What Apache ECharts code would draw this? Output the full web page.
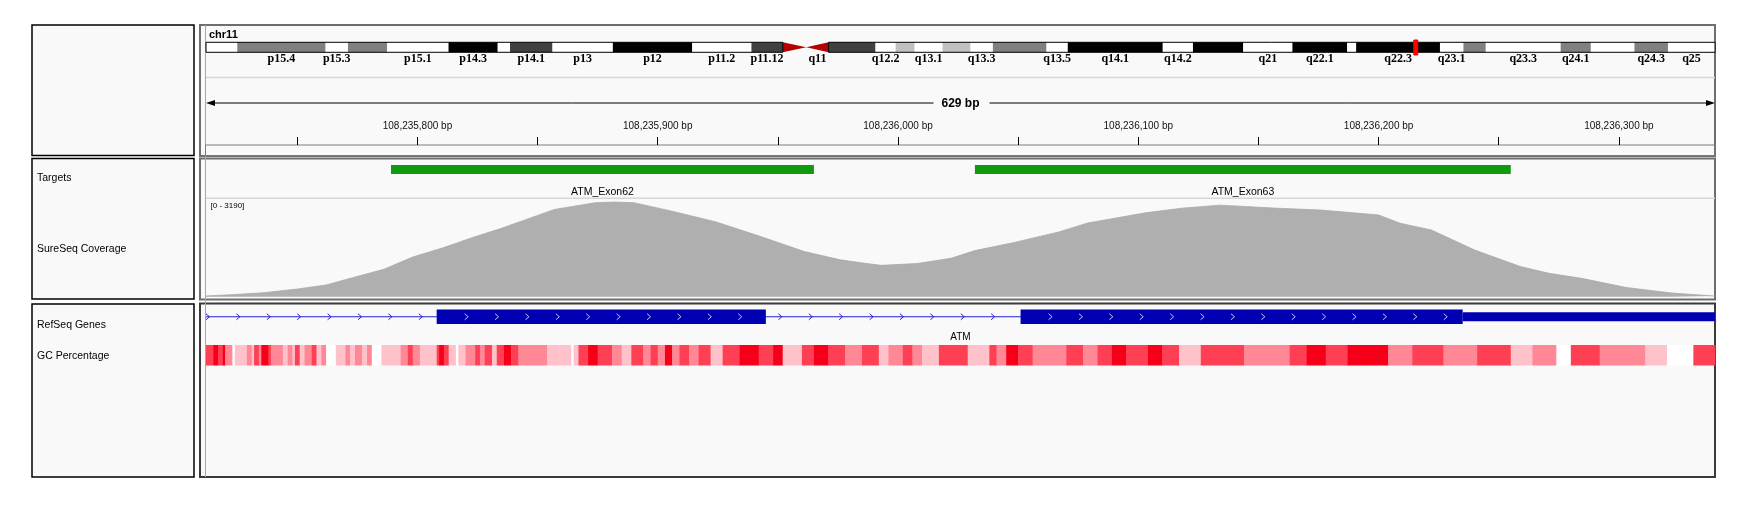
<!DOCTYPE html>
<html>
<head>
<meta charset="utf-8">
<title>IGV - ATM Exon62 / Exon63</title>
<script src="https://cdn.jsdelivr.net/npm/echarts@6/dist/echarts.min.js"></script>
<style>
  html, body { margin: 0; padding: 0; background: #fff; }
  #main { width: 1747px; height: 508px; }
</style>
</head>
<body>
<div id="main"></div>
<script>
// ---- ideogram (hg19 chr11 cytobands) ----
var chromName = 'chr11';
var chromLength = 135006516;
var bandNames = ['p15.5','p15.4','p15.3','p15.2','p15.1','p14.3','p14.2','p14.1','p13','p12','p11.2','p11.12','p11.11','q11',
  'q12.1','q12.2','q12.3','q13.1','q13.2','q13.3','q13.4','q13.5','q14.1','q14.2','q14.3','q21','q22.1','q22.2','q22.3',
  'q23.1','q23.2','q23.3','q24.1','q24.2','q24.3','q25'];
var bandStarts = [0, 2800000, 10700000, 12700000, 16200000, 21700000, 26100000, 27200000, 31000000, 36400000, 43500000,
  48800000, 51600000, 53700000, 55700000, 59900000, 61700000, 63400000, 65900000, 68400000, 70400000, 75200000, 77100000,
  85600000, 88300000, 92800000, 97200000, 102100000, 102900000, 110400000, 112500000, 114500000, 121200000, 123900000,
  127800000, 130800000];
var bandStains = ['gneg','gpos50','gneg','gpos50','gneg','gpos100','gneg','gpos75','gneg','gpos100','gneg','gpos75','acen','acen',
  'gpos75','gneg','gpos25','gneg','gpos25','gneg','gpos50','gneg','gpos100','gneg','gpos100','gneg','gpos100','gneg','gpos100',
  'gneg','gpos50','gneg','gpos50','gneg','gpos50','gneg'];
var bandLabels = ['p15.4','p15.3','p15.1','p14.3','p14.1','p13','p12','p11.2','p11.12','q11','q12.2','q13.1','q13.3','q13.5',
  'q14.1','q14.2','q21','q22.1','q22.3','q23.1','q23.3','q24.1','q24.3','q25'];

// ---- view / ruler ----
var viewStart = 108235712;
var viewEnd = 108236340;
var rulerSpan = 629;
var rulerTicks = [108235750, 108235800, 108235850, 108235900, 108235950, 108236000, 108236050, 108236100,
  108236150, 108236200, 108236250, 108236300];
var rulerLabels = [108235800, 108235900, 108236000, 108236100, 108236200, 108236300];

// ---- targets ----
var targetNames = ['ATM_Exon62', 'ATM_Exon63'];
var targetStarts = [108235789, 108236032];
var targetEnds = [108235965, 108236255];

// ---- coverage ----
var coverageMax = 3190;
var coveragePos = [108235712, 108235724, 108235736, 108235750, 108235762, 108235773, 108235786, 108235798, 108235811,
  108235823, 108235834, 108235843, 108235857, 108235874, 108235882, 108235890, 108235905, 108235924, 108235942,
  108235961, 108235976, 108235984, 108235993, 108236008, 108236022, 108236032, 108236048, 108236067, 108236079,
  108236103, 108236118, 108236134, 108236158, 108236176, 108236200, 108236209, 108236222, 108236240, 108236259,
  108236271, 108236285, 108236303, 108236322, 108236340];
var coverageDepth = [25, 70, 130, 250, 380, 620, 890, 1290, 1600, 1930, 2200, 2450, 2840, 3060, 3080, 3060, 2800, 2440,
  1980, 1470, 1200, 1110, 1020, 1080, 1250, 1500, 1760, 2110, 2400, 2730, 2880, 2980, 2880, 2820, 2660, 2390, 2170,
  1520, 980, 760, 590, 300, 120, 20];

// ---- RefSeq gene ----
var geneName = 'ATM';
var geneStart = 108093559;
var geneEnd = 108239826;
var exonStarts = [108235808, 108236051, 108236235];
var exonEnds = [108235945, 108236235, 108239826];
var exonKinds = ['cds', 'cds', 'utr'];

// ---- GC percentage (run starts as bp offsets from viewStart, shade 0 = white .. 4 = deep red) ----
var gcStarts = [0,3,5,7,8,11,12,17,19,20, 22,23,26,27,29,32,34,36,37,39, 41,44,46,48,50,54,58,60,62,65,
  67,69,73,81,84,86,89,96,97,99, 101,104,105,108,112,114,116,119,121,124, 127,130,139,142,147,152,153,155,159,163,
  169,173,177,182,185,188,191,194,197,201, 205,210,215,222,230,236,240,248,253,259, 266,273,280,284,290,294,298,305,317,326,
  329,333,338,344,358,365,371,377,383,392, 398,405,414,432,451,458,466,475,483,492, 502,515,529,543,552,562,568,580,599,608,
  619];
var gcShade = [3,4,3,4,2,0,1,2,1,3, 2,4,3,2,2,1,2,1,3,1, 2,3,1,2,0,1,2,1,2,1, 2,0,1,2,3,2,1,3,4,3,
  1,0,1,2,3,2,3,1,3,4, 3,2,2,1,1,0,1,3,4,3, 2,1,3,2,3,2,4,2,3,2, 3,1,3,4,3,4,1,3,4,3,
  2,3,1,2,3,2,1,3,1,3, 2,4,3,2,3,2,3,4,3,4, 3,1,3,2,3,4,3,4,4,2, 3,2,3,1,2,0,3,2,1,0,
  3];

// ---- layout / style ----
var dataLeft = 206, dataRight = 1715;
var stainColors = { gneg: '#ffffff', gpos25: '#c0c0c0', gpos50: '#808080', gpos75: '#404040', gpos100: '#000000', acen: '#b40000' };
var gcColors = ['#ffffff', '#ffc2cb', '#ff8796', '#ff3f53', '#f50018'];
var panelBg = '#f9f9f9';
var sansFont = '"Liberation Sans", Arial, sans-serif';

var chart = echarts.init(document.getElementById('main'));

function fmtBp(v) {
  return String(v).replace(/\B(?=(\d{3})+(?!\d))/g, ',') + ' bp';
}

// cytoband
var bandData = bandNames.map(function (n, i) {
  return [bandStarts[i], i + 1 < bandStarts.length ? bandStarts[i + 1] : chromLength, i];
});
var cenStart = bandStarts[bandStains.indexOf('acen')];
var cenEnd = bandStarts[bandStains.lastIndexOf('acen') + 1];

function renderBand(params, api) {
  var i = api.value(2);
  var s = api.coord([api.value(0), 0])[0];
  var e = api.coord([api.value(1), 0])[0];
  var cs = params.coordSys;
  var top = cs.y, h = cs.height;
  var kids = [];
  if (bandStains[i] === 'acen') {
    var pts = bandNames[i].charAt(0) === 'p'
      ? [[s, top], [e, top + h / 2], [s, top + h]]
      : [[e, top], [s, top + h / 2], [e, top + h]];
    kids.push({ type: 'polygon', shape: { points: pts }, style: { fill: stainColors.acen } });
  } else {
    kids.push({ type: 'rect', shape: { x: s, y: top, width: e - s, height: h }, style: { fill: stainColors[bandStains[i]] } });
  }
  if (bandLabels.indexOf(bandNames[i]) >= 0) {
    kids.push({ type: 'text', style: { text: bandNames[i], x: (s + e) / 2, y: top + h + 6.5,
      align: 'center', verticalAlign: 'middle', textAlign: 'center', textVerticalAlign: 'middle',
      fill: '#000', fontSize: 12, fontWeight: 'bold', fontFamily: '"Liberation Serif", "DejaVu Serif", serif' } });
  }
  return { type: 'group', children: kids };
}

function renderArm(params, api) {
  var s = api.coord([api.value(0), 0])[0];
  var e = api.coord([api.value(1), 0])[0];
  var cs = params.coordSys;
  return { type: 'rect', shape: { x: s, y: cs.y, width: e - s, height: cs.height },
    style: { fill: null, stroke: '#000', lineWidth: 1 } };
}

function renderViewMark(params, api) {
  var s = api.coord([api.value(0), 0])[0];
  var e = api.coord([api.value(1), 0])[0];
  var cs = params.coordSys;
  var w = Math.max(4, e - s), c = (s + e) / 2;
  return { type: 'rect', shape: { x: c - w / 2, y: cs.y - 2.3, width: w, height: cs.height + 5 },
    style: { fill: '#ff0000', stroke: '#ff0000', lineWidth: 1 } };
}

// targets
var targetData = targetNames.map(function (n, i) { return [targetStarts[i], targetEnds[i], n]; });
function renderTarget(params, api) {
  var s = api.coord([api.value(0), 0])[0];
  var e = api.coord([api.value(1), 0])[0];
  var cs = params.coordSys;
  return { type: 'group', children: [
    { type: 'rect', shape: { x: s, y: cs.y, width: e - s, height: cs.height }, style: { fill: '#109a10' } },
    { type: 'text', style: { text: targetNames[params.dataIndex], x: (s + e) / 2, y: cs.y + cs.height + 18,
      align: 'center', verticalAlign: 'middle', textAlign: 'center', textVerticalAlign: 'middle',
      fill: '#000', fontSize: 10.5, fontFamily: sansFont } }
  ] };
}

// gene
function chevrons(list, a, b, first, color, yMid) {
  for (var x = a + first; x < b - 12; x += 30.4) {
    list.push({ type: 'polyline', shape: { points: [[x - 2, yMid - 3], [x + 1.5, yMid], [x - 2, yMid + 3]] },
      style: { stroke: color, lineWidth: 1, fill: null } });
  }
}
function renderGene(params, api) {
  var cs = params.coordSys;
  var L = cs.x, R = cs.x + cs.width;
  function px(v) { return Math.min(R, Math.max(L, api.coord([v, 0])[0])); }
  var gs = px(api.value(0)), ge = px(api.value(1));
  var yMid = cs.y + cs.height / 2;
  var kids = [{ type: 'line', shape: { x1: gs, y1: yMid, x2: ge, y2: yMid }, style: { stroke: '#2222d6', lineWidth: 1.2 } }];
  // introns
  var prev = api.value(0);
  for (var i = 0; i < exonStarts.length; i++) {
    var a = px(prev), b = px(exonStarts[i]);
    if (b - a > 20) chevrons(kids, a, b + 10, a <= L + 0.5 ? 2 : 14.5, '#2222d6', yMid);
    prev = exonEnds[i];
  }
  // exons
  for (var j = 0; j < exonStarts.length; j++) {
    var s = px(exonStarts[j]), e = px(exonEnds[j]);
    var h = exonKinds[j] === 'cds' ? cs.height : cs.height * 0.62;
    kids.push({ type: 'rect', shape: { x: s, y: yMid - h / 2, width: e - s, height: h }, style: { fill: '#0000b2' } });
    if (exonKinds[j] === 'cds') chevrons(kids, s, e + 2, 30, '#c4c4ff', yMid);
  }
  kids.push({ type: 'text', style: { text: geneName, x: (gs + ge) / 2, y: cs.y + cs.height + 13,
    align: 'center', verticalAlign: 'middle', textAlign: 'center', textVerticalAlign: 'middle',
    fill: '#000', fontSize: 10, fontFamily: sansFont } });
  return { type: 'group', children: kids };
}

// GC
var gcData = gcStarts.map(function (s, i) {
  var e = i + 1 < gcStarts.length ? gcStarts[i + 1] : viewEnd - viewStart;
  return [viewStart + s, viewStart + e, gcShade[i]];
});
function renderGc(params, api) {
  var s = api.coord([api.value(0), 0])[0];
  var e = api.coord([api.value(1), 0])[0];
  var cs = params.coordSys;
  return { type: 'rect', shape: { x: s, y: cs.y, width: e - s + 0.4, height: cs.height },
    style: { fill: gcColors[api.value(2)] } };
}

function xHidden(grid, min, max) {
  return { gridIndex: grid, type: 'value', min: min, max: max, show: false };
}
function yHidden(grid, max) {
  return { gridIndex: grid, type: 'value', min: 0, max: max, show: false };
}

var grids = [
  { left: dataLeft, width: dataRight - dataLeft, top: 42.3, height: 10 },   // ideogram
  { left: dataLeft, width: dataRight - dataLeft, top: 143, height: 2 },     // ruler
  { left: dataLeft, width: dataRight - dataLeft, top: 165, height: 9 },     // targets
  { left: dataLeft, width: dataRight - dataLeft, top: 198.7, height: 98 },  // coverage
  { left: dataLeft, width: dataRight - dataLeft, top: 309.5, height: 14.5 },// genes
  { left: dataLeft, width: dataRight - dataLeft, top: 345, height: 20.5 }   // gc
];

function panel(x, y, w, h, stroke, lw) {
  return { type: 'rect', z: -5, shape: { x: x, y: y, width: w, height: h },
    style: { fill: panelBg, stroke: stroke, lineWidth: lw } };
}
function label(text, x, y, size, weight, align) {
  return { type: 'text', z: 5, style: { text: text, x: x, y: y, fill: '#000', fontSize: size,
    fontWeight: weight || 'normal', fontFamily: sansFont, align: align || 'left', textAlign: align || 'left',
    verticalAlign: 'middle', textVerticalAlign: 'middle' } };
}
function hline(x1, x2, y, color, lw, z) {
  return { type: 'line', z: z == null ? 5 : z, shape: { x1: x1, y1: y, x2: x2, y2: y }, style: { stroke: color, lineWidth: lw } };
}

var midX = (dataLeft + dataRight) / 2;
var graphics = [
  // name panels
  panel(32, 25, 162, 130.5, '#000', 1.5),
  panel(32, 158.5, 162, 140.5, '#000', 1.5),
  panel(32, 304, 162, 173, '#000', 1.5),
  // data panels
  panel(200, 25, 1515, 131, '#6e6e6e', 2),
  panel(200, 158.5, 1515, 141, '#6e6e6e', 2),
  panel(200, 303.5, 1515, 173.5, '#3a3a3a', 2),
  { type: 'line', z: -4, shape: { x1: 205.5, y1: 25, x2: 205.5, y2: 477 }, style: { stroke: '#a8a8a8', lineWidth: 1 } },
  // header decorations
  label(chromName, 209, 35, 11, 'bold'),
  hline(dataLeft, dataRight, 77.5, '#d6d6e0', 1.5, -3),
  hline(dataLeft + 6, midX - 27, 103, '#000', 1),
  hline(midX + 29, dataRight - 6, 103, '#000', 1),
  { type: 'polygon', z: 5, shape: { points: [[dataLeft, 103], [dataLeft + 9, 100], [dataLeft + 9, 106]] }, style: { fill: '#000' } },
  { type: 'polygon', z: 5, shape: { points: [[dataRight, 103], [dataRight - 9, 100], [dataRight - 9, 106]] }, style: { fill: '#000' } },
  label(rulerSpan + ' bp', midX, 103.5, 12, 'bold', 'center'),
  { type: 'rect', z: -3, shape: { x: 205.5, y: 145, width: 1509.5, height: 10.5 }, style: { fill: null, stroke: '#7a7a7a', lineWidth: 1 } },
  // track separators
  hline(dataLeft, dataRight, 198.3, '#d6d6e0', 1.5, -3),
  label('[0 - ' + coverageMax + ']', 210.5, 206, 8),
  // track names
  label('Targets', 37, 178.5, 10.5),
  label('SureSeq Coverage', 37, 249.5, 10.5),
  label('RefSeq Genes', 37, 325.5, 10.5),
  label('GC Percentage', 37, 356, 10.5)
];

var option = {
  animation: false,
  backgroundColor: '#ffffff',
  grid: grids,
  xAxis: [
    xHidden(0, 0, chromLength),
    { gridIndex: 1, type: 'value', min: viewStart, max: viewEnd, position: 'top',
      axisLine: { show: false }, splitLine: { show: false },
      axisTick: { show: true, length: 8, customValues: rulerTicks, lineStyle: { color: '#000', width: 1 } },
      axisLabel: { show: true, customValues: rulerLabels, margin: 12, fontSize: 10, fontFamily: sansFont, color: '#111',
        formatter: fmtBp } },
    xHidden(2, viewStart, viewEnd),
    xHidden(3, viewStart, viewEnd),
    xHidden(4, viewStart, viewEnd),
    xHidden(5, viewStart, viewEnd)
  ],
  yAxis: [yHidden(0, 1), yHidden(1, 1), yHidden(2, 1), yHidden(3, coverageMax), yHidden(4, 1), yHidden(5, 1)],
  graphic: graphics,
  series: [
    { type: 'custom', name: 'cytoband', xAxisIndex: 0, yAxisIndex: 0, clip: false, encode: { x: [0, 1] },
      renderItem: renderBand, data: bandData },
    { type: 'custom', name: 'arms', xAxisIndex: 0, yAxisIndex: 0, clip: false, encode: { x: [0, 1] },
      renderItem: renderArm, data: [[0, cenStart], [cenEnd, chromLength]] },
    { type: 'custom', name: 'view', xAxisIndex: 0, yAxisIndex: 0, clip: false, encode: { x: [0, 1] },
      renderItem: renderViewMark, data: [[viewStart, viewEnd]] },
    { type: 'custom', name: 'Targets', xAxisIndex: 2, yAxisIndex: 2, clip: false, encode: { x: [0, 1] },
      renderItem: renderTarget, data: targetData },
    { type: 'line', name: 'SureSeq Coverage', xAxisIndex: 3, yAxisIndex: 3, symbol: 'none', smooth: false,
      lineStyle: { color: '#a9a9a9', width: 0.8 }, areaStyle: { color: '#afafaf', opacity: 1 },
      data: coveragePos.map(function (p, i) { return [p, coverageDepth[i]]; }) },
    { type: 'custom', name: 'RefSeq Genes', xAxisIndex: 4, yAxisIndex: 4, clip: false, encode: { x: [0, 1] },
      renderItem: renderGene, data: [[geneStart, geneEnd]] },
    { type: 'custom', name: 'GC Percentage', xAxisIndex: 5, yAxisIndex: 5, clip: false, encode: { x: [0, 1] },
      renderItem: renderGc, data: gcData }
  ]
};

chart.setOption(option);
</script>
</body>
</html>
